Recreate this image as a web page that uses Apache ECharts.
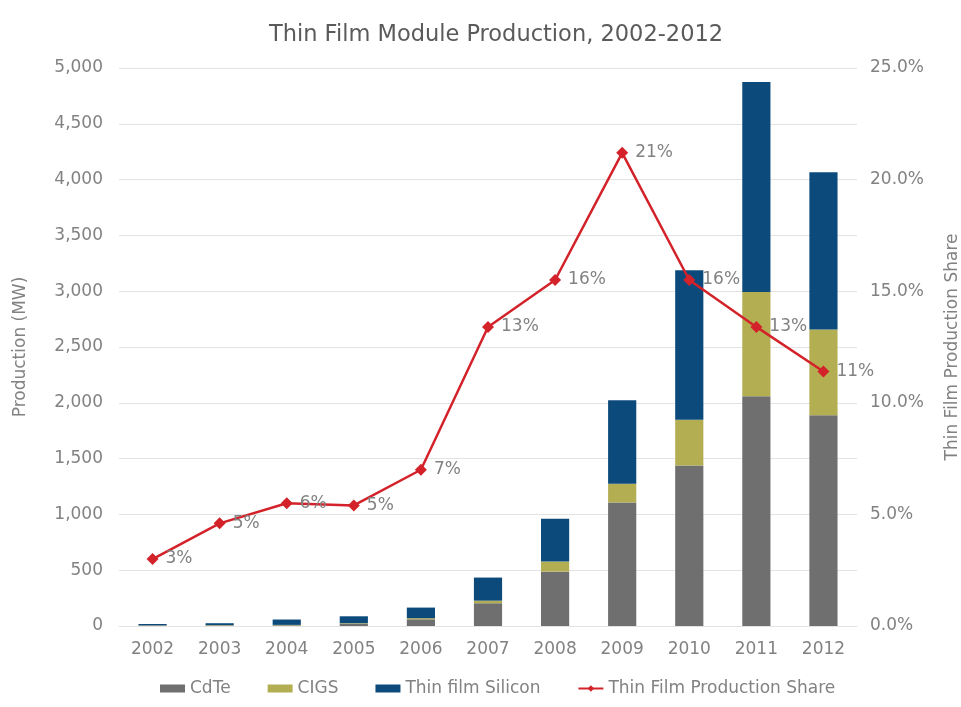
<!DOCTYPE html>
<html>
<head>
<meta charset="utf-8">
<title>Thin Film Module Production, 2002-2012</title>
<script src="https://cdn.jsdelivr.net/npm/echarts@6/dist/echarts.min.js"></script>
<style>
  html, body { margin: 0; padding: 0; background: #ffffff; }
  #chart { width: 961px; height: 707px; }
</style>
</head>
<body>
<div id="chart"></div>
<script>
// Production years
const years = ['2002', '2003', '2004', '2005', '2006', '2007', '2008', '2009', '2010', '2011', '2012'];

// Module production by technology (MW)
const cdte = [4, 5, 6, 20, 60, 204, 487, 1107, 1439, 2058, 1888];
const cigs = [2, 3, 4, 5, 10, 23, 90, 168, 410, 934, 769];
const silicon = [12, 17, 48, 62, 95, 207, 383, 747, 1338, 1882, 1409];

// Thin film share of total module production (%)
const share = [3.0, 4.6, 5.5, 5.4, 7.0, 13.4, 15.5, 21.2, 15.5, 13.4, 11.4];

// Axis ticks
const mwTicks = { min: 0, max: 5000, interval: 500 };
const shareTicks = { min: 0, max: 25, interval: 5 };

const textGrey = '#828282';
const gridGrey = '#e3e3e3';
const font = 'DejaVu Sans, Verdana, sans-serif';
const labelSize = 17;

const chart = echarts.init(document.getElementById('chart'), null, { renderer: 'canvas' });

const barSeries = (name, data, color) => ({
  name: name,
  type: 'bar',
  stack: 'production',
  yAxisIndex: 0,
  barWidth: '42%',
  itemStyle: { color: color },
  emphasis: { disabled: true },
  data: data
});

chart.setOption({
  animation: false,
  backgroundColor: '#ffffff',
  textStyle: { fontFamily: font },
  title: {
    text: 'Thin Film Module Production, 2002-2012',
    left: 491,
    textAlign: 'center',
    top: 19,
    textStyle: { fontSize: 22.5, fontWeight: 'normal', color: '#5a5a5a', fontFamily: font }
  },
  legend: {
    top: 675,
    left: 155,
    itemGap: 37,
    itemWidth: 25,
    itemHeight: 8,
    textStyle: { fontSize: labelSize, color: textGrey, fontFamily: font },
    data: [
      { name: 'CdTe', icon: 'rect' },
      { name: 'CIGS', icon: 'rect' },
      { name: 'Thin film Silicon', icon: 'rect' },
      { name: 'Thin Film Production Share' }
    ]
  },
  grid: { left: 119, right: 104, top: 68, bottom: 81, outerBoundsMode: 'none', containLabel: false },
  xAxis: {
    type: 'category',
    data: years,
    axisLine: { show: true, lineStyle: { color: gridGrey } },
    axisTick: { show: false },
    axisLabel: { color: textGrey, fontSize: labelSize, margin: 15, fontFamily: font }
  },
  yAxis: [
    {
      type: 'value',
      min: mwTicks.min,
      max: mwTicks.max,
      interval: mwTicks.interval,
      name: 'Production (MW)',
      nameLocation: 'middle',
      nameGap: 90,
      nameTextStyle: { color: textGrey, fontSize: labelSize, fontFamily: font },
      axisLine: { show: false },
      axisTick: { show: false },
      splitLine: { lineStyle: { color: gridGrey, width: 1 } },
      axisLabel: {
        color: textGrey,
        fontSize: labelSize,
        margin: 16,
        fontFamily: font,
        formatter: v => v.toLocaleString('en-US')
      }
    },
    {
      type: 'value',
      position: 'right',
      min: shareTicks.min,
      max: shareTicks.max,
      interval: shareTicks.interval,
      name: 'Thin Film Production Share',
      nameLocation: 'middle',
      nameGap: 87,
      nameRotate: 90,
      nameTextStyle: { color: textGrey, fontSize: labelSize, fontFamily: font },
      axisLine: { show: false },
      axisTick: { show: false },
      splitLine: { show: false },
      axisLabel: {
        color: textGrey,
        fontSize: labelSize,
        margin: 13,
        fontFamily: font,
        formatter: v => v.toFixed(1) + '%'
      }
    }
  ],
  series: [
    barSeries('CdTe', cdte, '#6f6f6f'),
    barSeries('CIGS', cigs, '#b3ae52'),
    barSeries('Thin film Silicon', silicon, '#0c4a7c'),
    {
      name: 'Thin Film Production Share',
      type: 'line',
      yAxisIndex: 1,
      data: share,
      symbol: 'diamond',
      symbolSize: 12,
      z: 5,
      lineStyle: { color: '#d3222a', width: 2.5 },
      itemStyle: { color: '#d3222a' },
      emphasis: { disabled: true },
      label: {
        show: true,
        position: 'right',
        distance: 7,
        color: textGrey,
        fontSize: labelSize,
        fontFamily: font,
        formatter: p => Math.round(p.value) + '%'
      }
    }
  ]
});
</script>
</body>
</html>
